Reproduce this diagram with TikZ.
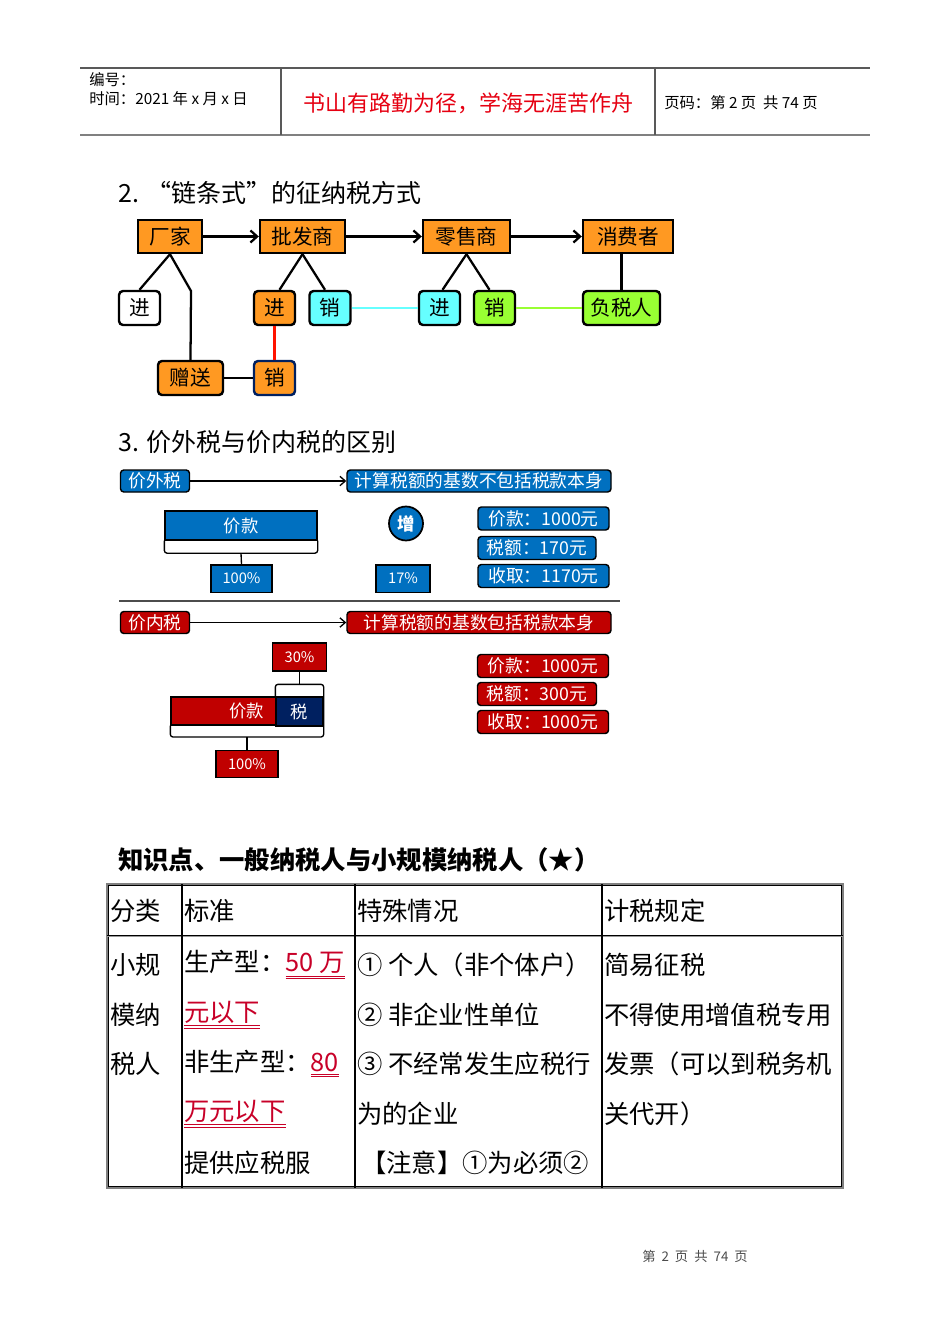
\documentclass[tikz,border=0pt]{standalone}
\usepackage{fontspec}
\setmainfont{Noto Sans CJK SC}
\usetikzlibrary{arrows.meta, positioning, calc}

\definecolor{chainorange}{RGB}{255,153,34}
\definecolor{chaincyan}{RGB}{102,255,255}
\definecolor{chaingreen}{RGB}{153,255,51}
\definecolor{taxblue}{RGB}{0,112,192}
\definecolor{taxred}{RGB}{192,0,0}
\definecolor{taxnavy}{RGB}{0,32,96}
\definecolor{mottored}{RGB}{230,0,18}
\definecolor{markred}{RGB}{200,0,40}

\newcommand\pxfont[1]{\fontsize{#1}{#1}\selectfont}

\tikzset{
    chain/.style={draw, line width=1.8pt, fill=chainorange, minimum height=24.75pt, inner sep=0pt, font=\pxfont{15.5}},
    sub/.style={draw, line width=1.8pt, rounded corners=3pt, minimum height=25.5pt, minimum width=30.75pt, inner sep=0pt, font=\pxfont{15.5}},
    link/.style={line width=1.7pt},
    tag/.style={draw=black, line width=1.1pt, rounded corners=2.5pt, text=white, inner sep=0pt, minimum height=16.5pt, font=\pxfont{13.3}},
    pct/.style={draw=black, line width=1pt, text=white, inner sep=0pt, minimum height=20.5pt, font=\pxfont{11}},
    cell/.style={anchor=west, inner sep=0pt, font=\pxfont{19}},
    heading/.style={anchor=west, inner sep=0pt, font=\pxfont{18.75}}
}

\begin{document}
\begin{tikzpicture}[x=0.75pt, y=-0.75pt]
    \useasboundingbox (0,0) rectangle (950,1344);
    \fill[white] (0,0) rectangle (950,1344);

    % page header
    \draw[line width=0.8pt, gray!70!black] (80,68) -- (870,68);
    \draw[line width=1.5pt, gray] (80,135) -- (870,135);
    \draw[line width=0.8pt, gray!70!black] (281,68) -- (281,135);
    \draw[line width=0.8pt, gray!70!black] (655,68) -- (655,135);
    \node[anchor=west, inner sep=0pt, font=\pxfont{11.5}] (hnum) at (89,80) {编号：};
    \node[anchor=west, inner sep=0pt, font=\pxfont{11.5}] (htime) at (89,99) {时间：2021 年 x 月 x 日};
    \node[text=mottored, inner sep=0pt, font=\pxfont{16.5}] (motto) at (468,103) {书山有路勤为径，学海无涯苦作舟};
    \node[anchor=west, inner sep=0pt, font=\pxfont{11.5}] (hpage) at (664,103) {页码：第 2 页 \ 共 74 页};

    % chain of taxpayers
    \node[heading] (sec2) at (118,193) {2. “链条式”的征纳税方式};
    \node[chain, minimum width=48pt] (cj) at (170,236.5) {厂家};
    \node[chain, minimum width=63.75pt] (pfs) at (302.5,236.5) {批发商};
    \node[chain, minimum width=65.25pt] (lss) at (466.5,236.5) {零售商};
    \node[chain, minimum width=67.5pt] (xfz) at (628,236.5) {消费者};
    \draw[link, -{Straight Barb[length=5pt, width=9pt]}] (cj) -- (pfs);
    \draw[link, -{Straight Barb[length=5pt, width=9pt]}] (pfs) -- (lss);
    \draw[link, -{Straight Barb[length=5pt, width=9pt]}] (lss) -- (xfz);

    \node[sub, fill=white] (jin1) at (139.5,308) {进};
    \node[sub, fill=chainorange] (jin2) at (274.5,308) {进};
    \node[sub, fill=chaincyan] (xiao2) at (330,308) {销};
    \node[sub, fill=chaincyan] (jin3) at (439.5,308) {进};
    \node[sub, fill=chaingreen] (xiao3) at (494.5,308) {销};
    \node[sub, fill=chaingreen, minimum width=57.75pt] (fsr) at (621.5,308) {负税人};
    \node[sub, fill=chainorange, minimum width=48.75pt] (zs) at (190.5,378) {赠送};
    \node[sub, fill=chainorange, draw=taxnavy] (xiao4) at (274.5,378) {销};

    \coordinate (cjbend) at (191,291);
    \draw[link] (cj.south) -- (jin1.north);
    \draw[link] (cj.south) -- (cjbend) -- (zs.north);
    \draw[link] (pfs.south) -- ($(jin2.north)+(5,0)$);
    \draw[link] (pfs.south) -- ($(xiao2.north)+(-5,0)$);
    \draw[link] (lss.south) -- ($(jin3.north)+(3,0)$);
    \draw[link] (lss.south) -- ($(xiao3.north)+(-5,0)$);
    \draw[link] (xfz.south -| fsr.north) -- (fsr.north);
    \draw[line width=2pt, chaincyan] (xiao2) -- (jin3);
    \draw[line width=2pt, chaingreen] (xiao3) -- (fsr);
    \draw[line width=1.7pt, red!85!orange] (jin2) -- (xiao4);
    \draw[link] (zs) -- (xiao4);

    % tax outside the price
    \node[heading] (sec3) at (118,442) {3. 价外税与价内税的区别};
    \node[tag, fill=taxblue, minimum width=51.75pt] (jwt) at (155,481) {价外税};
    \node[tag, fill=taxblue, minimum width=198pt] (jwtdef) at (479,481) {计算税额的基数不包括税款本身};
    \draw[line width=1pt, -{Straight Barb[length=4pt, width=7pt]}] (jwt) -- (jwtdef);

    \node[draw=black, line width=1pt, fill=taxblue, text=white, inner sep=0pt, minimum width=114pt, minimum height=21.75pt, font=\pxfont{13}] (jk1) at (241,525.5) {价款};
    \coordinate (jk1foot) at ($(jk1.south)+(0,12.5)$);
    \draw[line width=1pt, rounded corners=2pt] (jk1.south west) -- ++(0,12.5) -- ($(jk1.south east)+(0,12.5)$) -- (jk1.south east);
    \node[pct, fill=taxblue, minimum width=45.75pt] (b100) at (241.5,578.5) {100\%};
    \draw[line width=1pt] (jk1foot) -- (b100.north);

    \node[circle, draw, line width=1.3pt, fill=taxblue, text=white, minimum size=25.5pt, inner sep=0pt, font=\pxfont{13}\bfseries] (zeng) at (406,523.5) {增};
    \node[pct, fill=taxblue, minimum width=40.5pt] (b17) at (403,578.5) {17\%};

    \node[tag, fill=taxblue, minimum width=98.25pt, minimum height=17.25pt] (bjk) at (543.5,518.5) {价款：1000元};
    \node[tag, fill=taxblue, minimum width=88.5pt, minimum height=17.25pt] (bse) at (537,548) {税额：170元};
    \node[tag, fill=taxblue, minimum width=98.25pt, minimum height=17.25pt] (bsq) at (543.5,576) {收取：1170元};

    \draw[line width=1.5pt, gray!60!black] (119,601) -- (620,601);

    % tax inside the price
    \node[tag, fill=taxred, minimum width=51.75pt] (jnt) at (155,622.5) {价内税};
    \node[tag, fill=taxred, minimum width=198pt] (jntdef) at (479,622.5) {计算税额的基数包括税款本身};
    \draw[line width=1pt, -{Straight Barb[length=4pt, width=7pt]}] (jnt) -- (jntdef);

    \node[pct, fill=taxred, minimum width=40.5pt, minimum height=21pt] (r30) at (299.5,657) {30\%};
    \node[draw=black, line width=1pt, fill=taxred, text=white, inner ysep=0pt, inner xsep=9pt, text width=60.75pt, align=right, minimum height=21pt, font=\pxfont{13}] (jk2) at (223.5,711) {价款};
    \node[draw=black, line width=1pt, fill=taxnavy, text=white, inner sep=0pt, minimum width=35.25pt, minimum height=21.75pt, font=\pxfont{13}] (shui) at (299.5,711.5) {税};
    \coordinate (topfoot) at ($(shui.north)+(0,-12)$);
    \coordinate (lowfoot) at (247,737);
    \draw[line width=1pt, rounded corners=2pt] (shui.north west) -- ++(0,-12) -- ($(shui.north east)+(0,-12)$) -- (lowfoot -| shui.east) -- (lowfoot -| jk2.west) -- (jk2.south west);
    \draw[line width=1pt] (r30) -- (topfoot);
    \node[pct, fill=taxred, minimum width=46.5pt] (r100) at (247,764) {100\%};
    \draw[line width=1pt] (lowfoot) -- (r100.north);

    \node[tag, fill=taxred, minimum width=98.25pt, minimum height=17.25pt] (rjk) at (543,666) {价款：1000元};
    \node[tag, fill=taxred, minimum width=89.25pt, minimum height=17.25pt] (rse) at (537,694) {税额：300元};
    \node[tag, fill=taxred, minimum width=98.25pt, minimum height=17.25pt] (rsq) at (543,722) {收取：1000元};

    % knowledge point table
    \node[anchor=west, inner sep=0pt, font=\pxfont{19}\bfseries] (kp) at (118,860) {知识点、一般纳税人与小规模纳税人（★）};
    \draw[line width=2.2pt, gray] (107,884) rectangle (843,1188);
    \draw[line width=0.5pt] (108.5,885.5) rectangle (841.5,1186.5);
    \draw[line width=1.8pt, gray!80] (107,936) -- (843,936);
    \draw[line width=0.5pt] (107,935) -- (843,935);
    \foreach \cx in {182,355,602}
        \draw[line width=1pt] (\cx,884) -- (\cx,1188);

    \node[cell] (h1) at (110,911) {分类};
    \node[cell] (h2) at (184,911) {标准};
    \node[cell] (h3) at (357,911) {特殊情况};
    \node[cell] (h4) at (604,911) {计税规定};

    \node[cell] (c11) at (110,965) {小规};
    \node[cell] (c12) at (110,1015) {模纳};
    \node[cell] (c13) at (110,1064) {税人};

    \node[cell] (c21) at (184,965) {生产型：\textcolor{markred}{\underline{\underline{50 万}}}};
    \node[cell] (c22) at (184,1015) {\textcolor{markred}{\underline{\underline{元以下}}}};
    \node[cell] (c23) at (184,1064) {非生产型：\textcolor{markred}{\underline{\underline{80}}}};
    \node[cell] (c24) at (184,1114) {\textcolor{markred}{\underline{\underline{万元以下}}}};
    \node[cell] (c25) at (184,1163) {提供应税服};

    \node[cell] (c31) at (357,965) {① 个人（非个体户）};
    \node[cell] (c32) at (357,1015) {② 非企业性单位};
    \node[cell] (c33) at (357,1064) {③ 不经常发生应税行};
    \node[cell] (c34) at (357,1114) {为的企业};
    \node[cell] (c35) at (361,1163) {【注意】①为必须②};

    \node[cell] (c41) at (604,965) {简易征税};
    \node[cell] (c42) at (604,1015) {不得使用增值税专用};
    \node[cell] (c43) at (604,1064) {发票（可以到税务机};
    \node[cell] (c44) at (604,1114) {关代开）};

    % page footer
    \node[inner sep=0pt, text=gray!60!black, font=\pxfont{10}] (foot) at (695,1256) {第 \ 2 \ 页 \ 共 \ 74 \ 页};
\end{tikzpicture}
\end{document}
